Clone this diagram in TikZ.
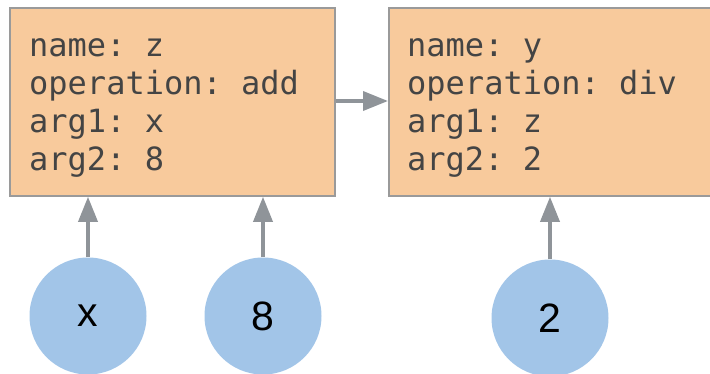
\documentclass[tikz,border=0pt]{standalone}
\usepackage{fontspec}
\setmonofont{DejaVu Sans Mono}
\setsansfont{Liberation Sans}
\usetikzlibrary{arrows.meta}
\definecolor{boxfill}{HTML}{F8CA9C}
\definecolor{boxline}{HTML}{9A9A9A}
\definecolor{circfill}{HTML}{A2C5E8}
\definecolor{arrowcol}{HTML}{8F9499}
\definecolor{txtcol}{HTML}{444444}
\tikzset{
  opbox/.style={draw=boxline, line width=1.8pt, fill=boxfill, rectangle, inner sep=0pt},
  optext/.style={anchor=base west, align=left, inner sep=0pt, text=txtcol,
    font=\ttfamily\fontsize{32}{37.7}\selectfont},
  valnode/.style={circle, fill=circfill, minimum size=117pt, inner sep=0pt,
    font=\sffamily\fontsize{41}{46}\selectfont, text=black},
  conn/.style={draw=arrowcol, line width=3.6pt, -{Triangle[length=25pt,width=19pt]}}
}
\begin{document}
\begin{tikzpicture}[x=1pt,y=1pt]
\useasboundingbox (0,0) rectangle (710,373);
\clip (0,0) rectangle (710,373);
% boxes
\node[opbox, minimum width=325pt, minimum height=188pt, anchor=north west] (zbox) at (9,366) {};
\node[opbox, minimum width=330pt, minimum height=188pt, anchor=north west] (ybox) at (388,366) {};
\node[optext] (ztext) at (29,203) {name: z\\operation: add\\arg1: x\\arg2: 8};
\node[optext] (ytext) at (407,203) {name: y\\operation: div\\arg1: z\\arg2: 2};
% values
\node[valnode] (x) at (88,57) {x};
\node[valnode] (eight) at (263,57) {8};
\node[valnode] (two) at (550,55) {2};
% connectors
\draw[conn] (zbox.east |- 0,272) -- (ybox.west |- 0,272);
\draw[conn] (x.north) -- (x.north |- zbox.south);
\draw[conn] (eight.north) -- (eight.north |- zbox.south);
\draw[conn] (two.north) -- (two.north |- ybox.south);
\end{tikzpicture}
\end{document}
